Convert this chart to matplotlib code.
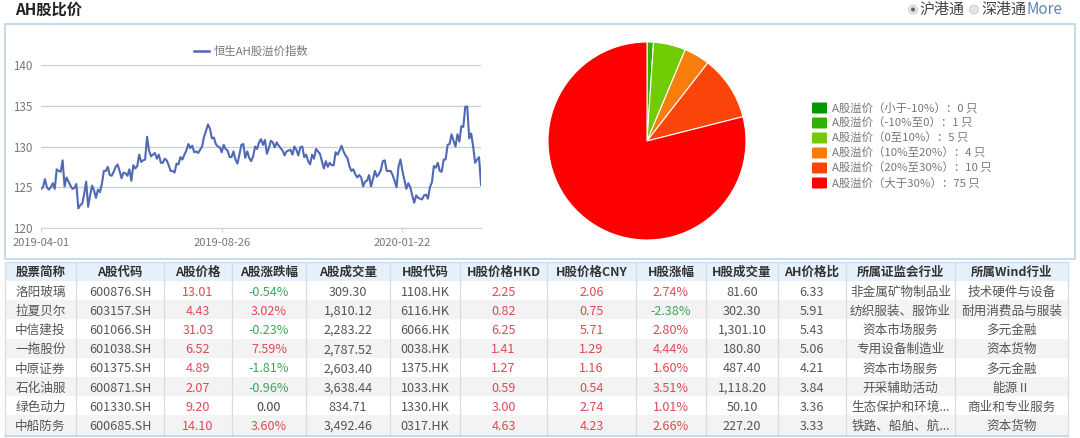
import matplotlib
matplotlib.use("Agg")
import matplotlib.pyplot as plt
from matplotlib.patches import Rectangle, Circle, FancyBboxPatch

plt.rcParams['font.family'] = ['Noto Sans CJK SC', 'DejaVu Sans']

W, H = 1080, 438

# AH premium index
index_values = [
    124.8, 125, 126, 125, 124.7, 125, 125.5, 124.8, 127.2, 127, 126.9, 128.3, 125.1, 126.2, 125.7, 125.2,
    124.8, 124.9, 125.4, 122.4, 122.8, 123, 124.2, 125.7, 122.6, 124, 125.2, 124.6, 123.7, 124.7, 124.4,
    125.4, 127, 127, 127.5, 126.5, 126.4, 126.9, 127.5, 127.8, 127, 126.1, 126.8, 126.7, 126.4, 127.2,
    125.8, 127.7, 127.3, 127.6, 129, 128.1, 128.3, 128.4, 131.2, 129.5, 128.8, 129, 129.2, 128.5, 129,
    128, 128, 128.5, 128.3, 127.7, 127, 127, 126.8, 127.9, 127.8, 128.7, 128.4, 129, 129.5, 130.3, 129.8,
    130.1, 129.3, 129.4, 129.2, 129.6, 130, 131.2, 131.9, 132.7, 132.2, 131, 131.1, 130.3, 130, 129.9, 129.3,
    130.2, 129.7, 129.5, 128.7, 128.7, 129.4, 128.4, 127.9, 129, 130.2, 130.3, 128.6, 129.4, 128.6, 128.2,
    128.8, 130, 129.7, 130.5, 130.9, 130.2, 130.8, 129.1, 129.8, 130.7, 130.5, 129.9, 130.5, 130.1, 129.8,
    129.5, 128.9, 129.4, 129.5, 129.6, 129, 130, 129.6, 128.9, 129.9, 130, 128.7, 129, 128.2, 127.8, 129,
    128.5, 129.7, 129.4, 129.1, 128.2, 127.3, 128.2, 127.5, 128, 127.7, 127.7, 129.3, 129, 129.5, 130.1,
    129.4, 128.9, 128.6, 127.6, 127, 127.2, 126.6, 126.2, 126.5, 126.2, 125.1, 125.7, 125.8, 126.5, 125.1,
    126, 127, 126.3, 126.6, 127.1, 128.2, 128.3, 127, 127, 127, 126.5, 125.8, 125, 127.5, 128.4, 127, 125.9,
    124.8, 125.5, 125, 124, 123.1, 124, 123.7, 123.6, 123.5, 124, 124.1, 123.6, 125, 125.6, 127.6, 127.4,
    128, 127, 126.9, 128.4, 128.4, 130.2, 130.3, 131.5, 130.7, 130, 131.5, 130.6, 132.5, 132.4, 134.9, 134.9,
    131, 131.6, 130, 128, 128.4, 128.7, 125.3,
]
date_ticks = [0, 92, 184]
date_labels = ['2019-04-01', '2019-08-26', '2020-01-22']
y_ticks = [120, 125, 130, 135, 140]

pie_labels = ['A股溢价（小于-10%）：0 只', 'A股溢价（-10%至0）：1 只', 'A股溢价（0至10%）：5 只',
              'A股溢价（10%至20%）：4 只', 'A股溢价（20%至30%）：10 只', 'A股溢价（大于30%）：75 只']
pie_values = [0, 1, 5, 4, 10, 75]
pie_colors = ['#009a00', '#2fb300', '#72cc05', '#f97d0c', '#fb4409', '#fe0000']

headers = ['股票简称', 'A股代码', 'A股价格', 'A股涨跌幅', 'A股成交量', 'H股代码', 'H股价格HKD',
           'H股价格CNY', 'H股涨幅', 'H股成交量', 'AH价格比', '所属证监会行业', '所属Wind行业']
names = ['洛阳玻璃', '拉夏贝尔', '中信建投', '一拖股份', '中原证券', '石化油服', '绿色动力', '中船防务']
a_codes = ['600876.SH', '603157.SH', '601066.SH', '601038.SH', '601375.SH', '600871.SH', '601330.SH', '600685.SH']
a_price = ['13.01', '4.43', '31.03', '6.52', '4.89', '2.07', '9.20', '14.10']
a_change = ['-0.54%', '3.02%', '-0.23%', '7.59%', '-1.81%', '-0.96%', '0.00', '3.60%']
a_volume = ['309.30', '1,810.12', '2,283.22', '2,787.52', '2,603.40', '3,638.44', '834.71', '3,492.46']
h_codes = ['1108.HK', '6116.HK', '6066.HK', '0038.HK', '1375.HK', '1033.HK', '1330.HK', '0317.HK']
h_hkd = ['2.25', '0.82', '6.25', '1.41', '1.27', '0.59', '3.00', '4.63']
h_cny = ['2.06', '0.75', '5.71', '1.29', '1.16', '0.54', '2.74', '4.23']
h_change = ['2.74%', '-2.38%', '2.80%', '4.44%', '1.60%', '3.51%', '1.01%', '2.66%']
h_volume = ['81.60', '302.30', '1,301.10', '180.80', '487.40', '1,118.20', '50.10', '227.20']
ah_ratio = ['6.33', '5.91', '5.43', '5.06', '4.21', '3.84', '3.36', '3.33']
csrc_ind = ['非金属矿物制品业', '纺织服装、服饰业', '资本市场服务', '专用设备制造业', '资本市场服务',
            '开采辅助活动', '生态保护和环境...', '铁路、船舶、航...']
wind_ind = ['技术硬件与设备', '耐用消费品与服装', '多元金融', '资本货物', '多元金融', '能源Ⅱ',
            '商业和专业服务', '资本货物']
columns = [names, a_codes, a_price, a_change, a_volume, h_codes, h_hkd, h_cny, h_change, h_volume,
           ah_ratio, csrc_ind, wind_ind]

RED = '#dc4a55'
GREEN = '#3fa45a'
TEXT = '#555555'


def axes_px(fig, left, top, right, bottom):
    return fig.add_axes([left / W, 1 - bottom / H, (right - left) / W, (bottom - top) / H])


def cell_color(col, value):
    if col in (2, 6, 7):
        return RED
    if col in (3, 8):
        if value.startswith('-'):
            return GREEN
        if value == '0.00':
            return '#444444'
        return RED
    return TEXT


fig = plt.figure(figsize=(W / 100, H / 100), dpi=100, facecolor='white')

# page layer in pixels: title, panel, table
bg = fig.add_axes([0, 0, 1, 1])
bg.set_xlim(0, W)
bg.set_ylim(H, 0)
bg.axis('off')

bg.text(15, 14.5, 'AH股比价', fontsize=11, fontweight='bold', color='#222222', va='baseline')
bg.add_patch(Rectangle((5, 24), 1070, 235, fc='white', ec='#bcd6e8', lw=1.2))

# radio buttons and More link
bg.add_patch(Circle((913, 9.5), 4.5, fc='#e4e4e4', ec='#cccccc', lw=0.6))
bg.add_patch(Circle((913, 9.5), 2, fc='#666666', ec='none'))
bg.text(919, 10, '沪港通', fontsize=10.8, color='#444444', va='center')
bg.add_patch(Circle((974, 9.5), 4.5, fc='#e4e4e4', ec='#cccccc', lw=0.6))
bg.text(981, 10, '深港通', fontsize=10.8, color='#444444', va='center')
bg.text(1027, 10, 'More', fontsize=11, color='#5f84b8', va='center')

# table
col_edges = [5, 76, 164, 232, 306, 390, 460, 547, 636, 706, 778, 846, 955, 1068]
header_top, header_bottom = 262, 281
row_h = 19.2
n_rows = len(names)
table_bottom = header_bottom + row_h * n_rows + 1
bg.add_patch(Rectangle((5, header_top), 1063, header_bottom - header_top, fc='#e6f0fa', ec='none'))
for r in range(n_rows):
    if r % 2 == 1:
        bg.add_patch(Rectangle((5, header_bottom + r * row_h), 1063, row_h, fc='#f3f3f3', ec='none'))
for x in col_edges:
    bg.plot([x, x], [header_top, table_bottom], color='#d3dde8', lw=0.9)
bg.plot([5, 1068], [header_top, header_top], color='#cfe0ef', lw=1)
bg.plot([5, 1068], [table_bottom, table_bottom], color='#bcd6e8', lw=1.2)

for c, head in enumerate(headers):
    cx = (col_edges[c] + col_edges[c + 1]) / 2
    bg.text(cx, header_bottom - 5, head, fontsize=9, fontweight='bold',
            color='#333333', ha='center', va='baseline')
    for r, value in enumerate(columns[c]):
        # baseline keeps commas and CJK on the same line across a row
        bg.text(cx, header_bottom + (r + 0.5) * row_h + 5, value, fontsize=9.1,
                color=cell_color(c, value), ha='center', va='baseline')

# line chart
ax = axes_px(fig, 41, 65, 481, 228)
ax.patch.set_alpha(0)
ax.plot(range(len(index_values)), index_values, color='#4f69b5', lw=1.5)
ax.set_xlim(0, len(index_values) - 1)
ax.set_ylim(120, 140)
ax.set_yticks(y_ticks)
ax.set_xticks(date_ticks)
ax.set_xticklabels(date_labels, fontsize=8, color='#777777')
ax.tick_params(axis='y', length=0, labelsize=8.4, labelcolor='#777777', pad=6)
ax.tick_params(axis='x', length=3, color='#ccd3de', pad=4)
ax.grid(axis='y', color='#c8ced8', lw=0.9)
ax.set_axisbelow(True)
for s in ax.spines.values():
    s.set_visible(False)
ax.spines['bottom'].set_visible(True)
ax.spines['bottom'].set_color('#ccd3de')

bg.plot([194, 209], [51, 51], color='#4f69b5', lw=1.8)
bg.text(214, 51, '恒生AH股溢价指数', fontsize=8.2, color='#777777', va='center')

# pie
pie_ax = axes_px(fig, 547, 41, 747, 241)
pie_ax.pie(pie_values, colors=pie_colors, startangle=90, counterclock=False, radius=0.99,
           wedgeprops={'edgecolor': 'white', 'linewidth': 0.8})
pie_ax.set_xlim(-1, 1)
pie_ax.set_ylim(-1, 1)

# pie legend
for i, (label, color) in enumerate(zip(pie_labels, pie_colors)):
    y = 108 + i * 15
    bg.add_patch(FancyBboxPatch((813, y - 4.5), 13, 9, boxstyle='round,pad=1', fc=color, ec='none'))
    bg.text(832, y, label, fontsize=8.2, color='#777777', va='center')

fig.savefig('out.png', dpi=100)
